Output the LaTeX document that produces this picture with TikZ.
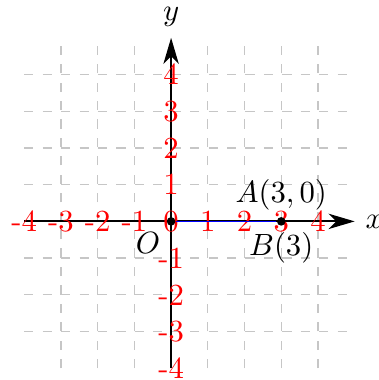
\documentclass[tikz,border=0pt]{standalone}
\usepackage{xcolor}
\usetikzlibrary{arrows.meta}

\begin{document}
\begin{tikzpicture}[x=.42cm, y=.42cm]
   \tikzstyle{pt}=[circle, fill=black, inner sep=0pt, minimum size=2.8pt]
   \tikzstyle{axis}=[semithick, -{Stealth[length=8.5pt, width=5pt, inset=2.5pt]}]
   \useasboundingbox (-4.66,-4.32) rectangle (5.64,6.03);
   %% grid
\foreach \i in {-3,...,4} {
   \draw[gray!45, dashed] (\i,-4) to (\i,5);
   \draw[gray!45, dashed] (-4,\i) to (5,\i);
}
   %% axes
\coordinate (xl) at (-4,0);
\coordinate (xr) at (5,0);
\coordinate (yb) at (0,-4);
\coordinate (yt) at (0,5);
 \draw[axis] (xl) to (xr);
 \draw[axis] (yb) to (yt);
\node (x) [right] at (xr) {$x$};
\node (y) [above] at (yt) {$y$};
   %% labels
\foreach \k in {-4,...,4}
   \node (xk\k) at (\k,0) {\textcolor{red}{\k}};
\foreach \k in {-4,...,-1,1,2,3,4}
   \node (yk\k) at (0,\k) {\textcolor{red}{\k}};
   %% points
\node (O) at (0,0) [pt] {};
\node (A) at (3,0) [pt] {};
 \draw[thin, blue] (O) to (A);
\node (o) [below left] at (O) {$O$};
\node (a) [above] at (A) {$A(3,0)$};
\node (b) [below] at (A) {$B(3)$};
\end{tikzpicture}
\end{document}
